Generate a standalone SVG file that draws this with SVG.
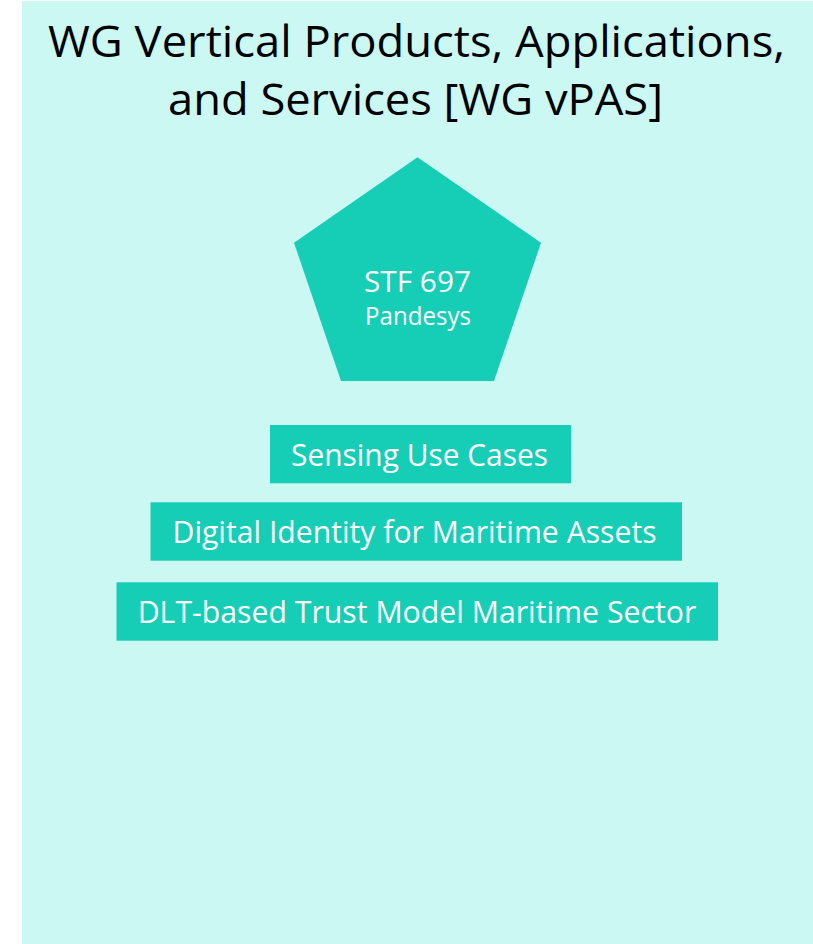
<svg xmlns="http://www.w3.org/2000/svg" width="813" height="944" viewBox="0 0 813 944">
  <style>
    .bg { fill: #CBF8F3; }
    .shape { fill: #16CDB6; }
    .title { font-family: "Open Sans", "Noto Sans", "Liberation Sans", sans-serif; fill: #000000; text-anchor: middle; }
    .lbl { font-family: "Open Sans", "Noto Sans", "Liberation Sans", sans-serif; fill: #FFFFFF; text-anchor: middle; }
  </style>
  <rect class="bg" x="22" y="1" width="791" height="943"/>
  <g id="title">
    <text class="title" x="416.5" y="56.7" font-size="44" textLength="737" lengthAdjust="spacingAndGlyphs">WG Vertical Products, Applications,</text>
    <text class="title" x="415.5" y="115" font-size="44" textLength="495" lengthAdjust="spacingAndGlyphs">and Services [WG vPAS]</text>
  </g>
  <g id="stf697">
    <polygon class="shape" points="417.5,157.3 541,242.7 494,381 341,381 294,242.7"/>
    <text class="lbl" x="417.5" y="291.7" font-size="30" textLength="107" lengthAdjust="spacingAndGlyphs">STF 697</text>
    <text class="lbl" x="418" y="325" font-size="25.5" textLength="106" lengthAdjust="spacingAndGlyphs">Pandesys</text>
  </g>
  <g id="sensing">
    <rect class="shape" x="270" y="425" width="301" height="58.3"/>
    <text class="lbl" x="419.5" y="466" font-size="31" textLength="257" lengthAdjust="spacingAndGlyphs">Sensing Use Cases</text>
  </g>
  <g id="digital-identity">
    <rect class="shape" x="150.5" y="502.3" width="531.5" height="58.4"/>
    <text class="lbl" x="414.5" y="542.7" font-size="31" textLength="484" lengthAdjust="spacingAndGlyphs">Digital Identity for Maritime Assets</text>
  </g>
  <g id="dlt-trust">
    <rect class="shape" x="116.5" y="582.3" width="601.5" height="58.4"/>
    <text class="lbl" x="417" y="623.3" font-size="31" textLength="558.6" lengthAdjust="spacingAndGlyphs">DLT-based Trust Model Maritime Sector</text>
  </g>
  <g id="connectors"></g>
</svg>
